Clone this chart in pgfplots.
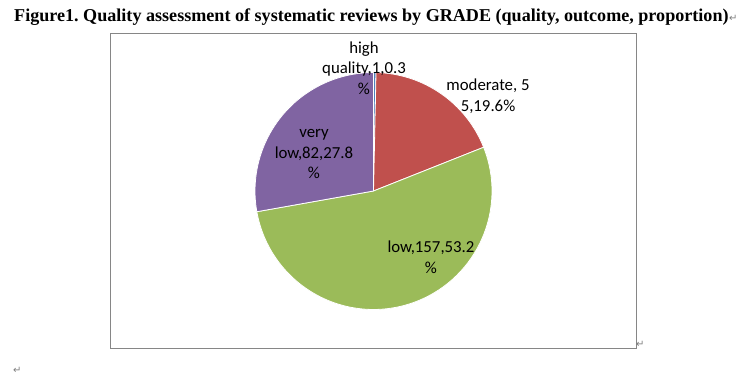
\documentclass[border=0pt]{standalone}
\usepackage{pgfplots}
\usepackage{pgfplotstable}
\pgfplotsset{compat=1.18}
\usepackage{fontspec}
\setmainfont{Liberation Serif}
\newfontfamily\carlito{Carlito}
\newfontfamily\dejavu{DejaVu Sans}
\definecolor{cHigh}{HTML}{4F81BD}
\definecolor{cMod}{HTML}{C0504D}
\definecolor{cLow}{HTML}{9BBB59}
\definecolor{cVLow}{HTML}{8064A2}
\definecolor{cFrame}{HTML}{868686}
\definecolor{cMark}{HTML}{7F7F7F}
\frenchspacing
\pgfplotstableread{
grade value
high 1
moderate 55
low 157
verylow 82
}\gradetable
\pgfplotstablegetelem{0}{value}\of\gradetable \let\vA\pgfplotsretval
\pgfplotstablegetelem{1}{value}\of\gradetable \let\vB\pgfplotsretval
\pgfplotstablegetelem{2}{value}\of\gradetable \let\vC\pgfplotsretval
\pgfplotstablegetelem{3}{value}\of\gradetable \let\vD\pgfplotsretval
\pgfmathsetmacro\tot{\vA+\vB+\vC+\vD}
\pgfmathsetmacro\aA{90}
\pgfmathsetmacro\aB{\aA-360*(\vA/\tot)}
\pgfmathsetmacro\aC{\aB-360*(\vB/\tot)}
\pgfmathsetmacro\aD{\aC-360*(\vC/\tot)}
\pgfmathsetmacro\aE{\aD-360*(\vD/\tot)}
\begin{document}%
\begin{tikzpicture}
\begin{axis}[
  at={(0,0)}, anchor=south west,
  scale only axis, width=748pt, height=380pt,
  xmin=0, xmax=748, ymin=0, ymax=380,
  enlargelimits=false, hide axis, clip=false]
\def\cx{373.5}\def\cy{189}\def\R{118.5pt}
% chart frame
\draw[cFrame, line width=1pt] (axis cs:110.5,346) rectangle (axis cs:636,31);
% slices
\fill[cHigh, draw=white, line width=0.8pt] (axis cs:\cx,\cy) -- ++(\aA:\R) arc[start angle=\aA, end angle=\aB, radius=\R] -- cycle;
\fill[cMod, draw=white, line width=0.8pt] (axis cs:\cx,\cy) -- ++(\aB:\R) arc[start angle=\aB, end angle=\aC, radius=\R] -- cycle;
\fill[cLow, draw=white, line width=0.8pt] (axis cs:\cx,\cy) -- ++(\aC:\R) arc[start angle=\aC, end angle=\aD, radius=\R] -- cycle;
\fill[cVLow, draw=white, line width=0.8pt] (axis cs:\cx,\cy) -- ++(\aD:\R) arc[start angle=\aD, end angle=\aE, radius=\R] -- cycle;
% labels
\tikzset{lab/.style={align=center, font=\carlito\fontsize{16.8}{20.5}\selectfont, text=black, inner sep=0pt}}
\node[lab] at (axis cs:364,312) {high\\quality,1,0.3\\\%};
\node[lab] at (axis cs:488,284) {moderate, 5\\5,19.6\%};
\node[lab] at (axis cs:431,123) {low,157,53.2\\\%};
\node[lab] at (axis cs:314,226) {very\\low,82,27.8\\\%};
% title
\node[anchor=base west, inner sep=0pt, font=\bfseries\fontsize{18.1}{20}\selectfont] (T) at (axis cs:14,358) {Figure1. Quality assessment of systematic reviews by GRADE (quality, outcome, proportion)};
\node[anchor=base west, inner sep=0pt, text=cMark, font=\dejavu\fontsize{10}{11}\selectfont] at (T.base east) {↵};
\node[anchor=base west, inner sep=0pt, text=cMark, font=\dejavu\fontsize{10}{11}\selectfont] at (axis cs:636,32) {↵};
\node[anchor=base west, inner sep=0pt, text=cMark, font=\dejavu\fontsize{10}{11}\selectfont] at (axis cs:13,6) {↵};
\end{axis}
\pgfresetboundingbox
\path[use as bounding box] (0,0) rectangle (748pt,380pt);
\end{tikzpicture}%
\end{document}
